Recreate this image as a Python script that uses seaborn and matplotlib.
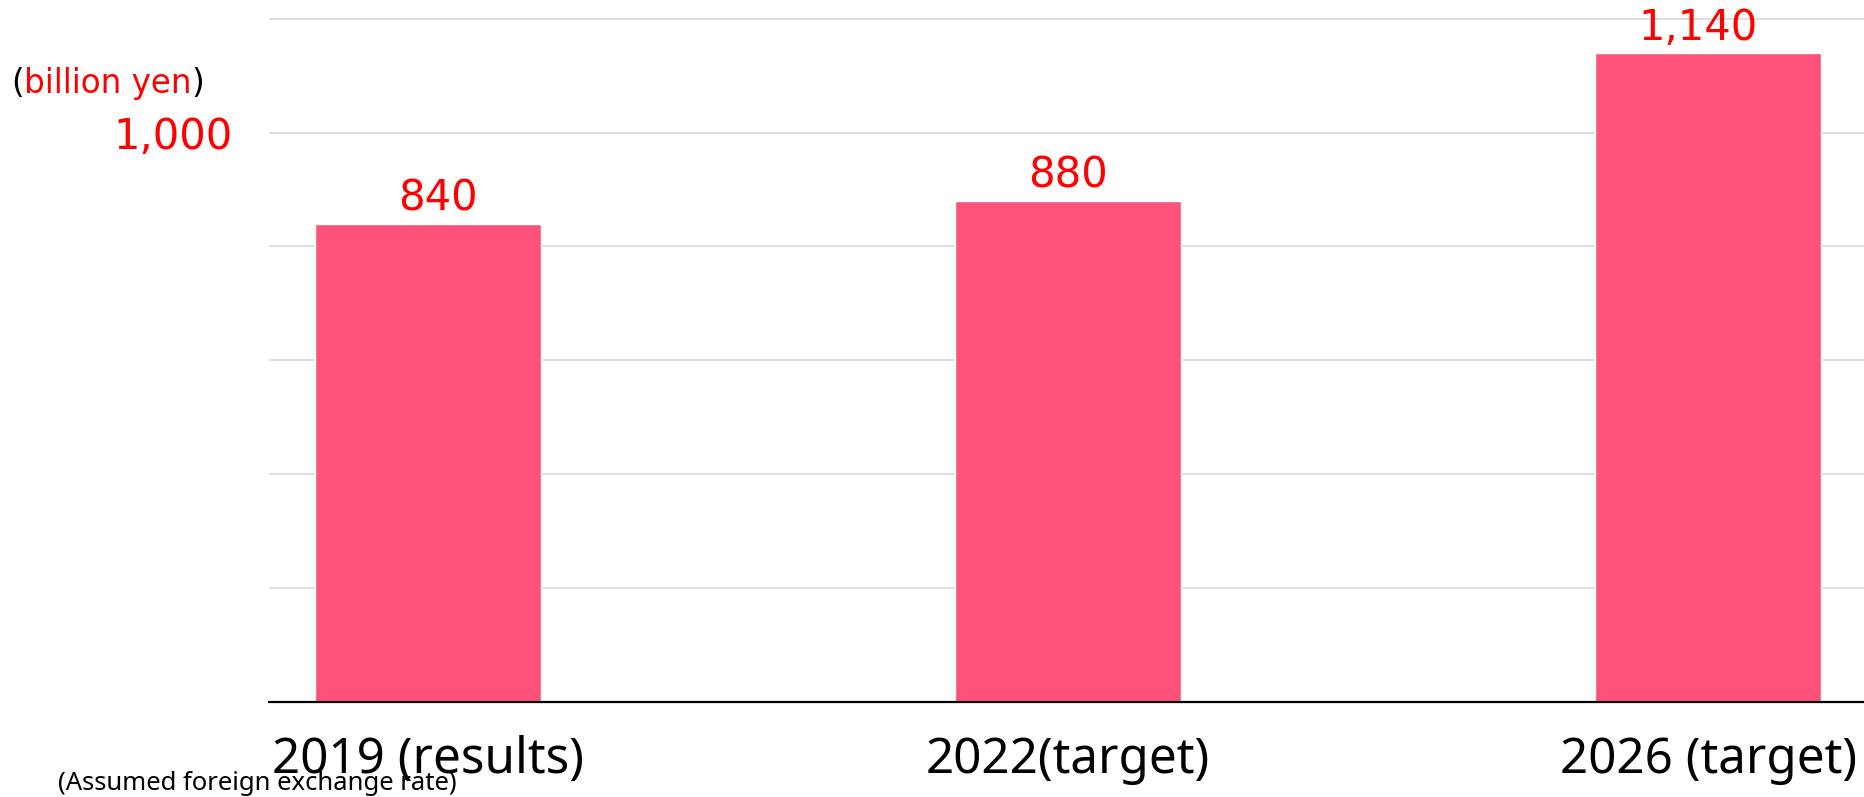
import matplotlib
matplotlib.use("Agg")
import matplotlib.pyplot as plt
import matplotlib.ticker as mticker
import seaborn as sns
import pandas as pd

# ---- data ----
categories = ["2019 (results)", "2022(target)", "2026 (target)"]
values = [840, 880, 1140]
value_labels = ["840", "880", "1,140"]
y_ticks = [0, 200, 400, 600, 800, 1000, 1200]
y_tick_labels = {1000: "1,000"}
unit_parts = ["(", "billion yen", ")"]
footnote = "(Assumed foreign exchange rate)"

# label horizontal nudges (points), as in the original layout
label_dx = [7.5, 0, -7.5]

BAR_COLOR = "#FF527A"
RED = "#FF0000"

sns.set_style("white")
plt.rcParams["font.family"] = ["DejaVu Sans"]

W, H = 1865, 797
fig = plt.figure(figsize=(W / 100, H / 100), dpi=100)

ax_left, ax_right = 269, 1865
base_y, top_y = 701.7, 1.8
ax = fig.add_axes([ax_left / W, (H - base_y) / H, (ax_right - ax_left) / W, (base_y - top_y) / H])

df = pd.DataFrame({"cat": categories, "val": values})
sns.barplot(data=df, x="cat", y="val", color=BAR_COLOR, saturation=1,
            width=0.353, ax=ax, zorder=3)

ax.set_xlim(-0.248, 2.245)
ax.set_ylim(0, 1230)
ax.set_yticks(y_ticks)
ax.yaxis.set_major_formatter(mticker.FuncFormatter(lambda v, p: y_tick_labels.get(int(round(v)), "")))
ax.grid(axis="y", color="#d9d9d9", linewidth=1.2, zorder=0)
ax.grid(axis="x", visible=False)
ax.set_axisbelow(True)

for s in ["left", "right", "top"]:
    ax.spines[s].set_visible(False)
ax.spines["bottom"].set_color("black")
ax.spines["bottom"].set_linewidth(1.6)
ax.spines["bottom"].set_zorder(5)

ax.tick_params(axis="y", length=0, pad=26, labelsize=30, labelcolor=RED)
ax.tick_params(axis="x", length=0, pad=24)
for lbl in ax.get_xticklabels():
    lbl.set_fontfamily(["Noto Sans", "DejaVu Sans"])
    lbl.set_fontsize(35.5)
    lbl.set_color("black")
ax.set_xlabel("")
ax.set_ylabel("")

# value labels
for patch, text, dx in zip(ax.patches, value_labels, label_dx):
    cx = patch.get_x() + patch.get_width() / 2
    ax.annotate(text, xy=(cx, patch.get_height()), xytext=(dx, 3),
                textcoords="offset points", ha="center", va="bottom",
                fontsize=30, color=RED, annotation_clip=False)

# unit label: black parens, red text
x0 = 11
yb = (H - 93) / H
t1 = fig.text(x0 / W, yb, unit_parts[0], fontsize=23.5, color="black", va="baseline", ha="left")
t2 = ax.annotate(unit_parts[1], xy=(1, yb), xycoords=(t1, "figure fraction"),
                 fontsize=23.5, color=RED, va="baseline", ha="left", annotation_clip=False)
t3 = ax.annotate(unit_parts[2], xy=(1, yb), xycoords=(t2, "figure fraction"),
                 fontsize=23.5, color="black", va="baseline", ha="left", annotation_clip=False)

# footnote
fig.text(58 / W, (H - 790) / H, footnote, fontsize=18.5, color="black",
         family=["Noto Sans", "DejaVu Sans"], va="baseline", ha="left")

fig.savefig("out.png", dpi=100)
